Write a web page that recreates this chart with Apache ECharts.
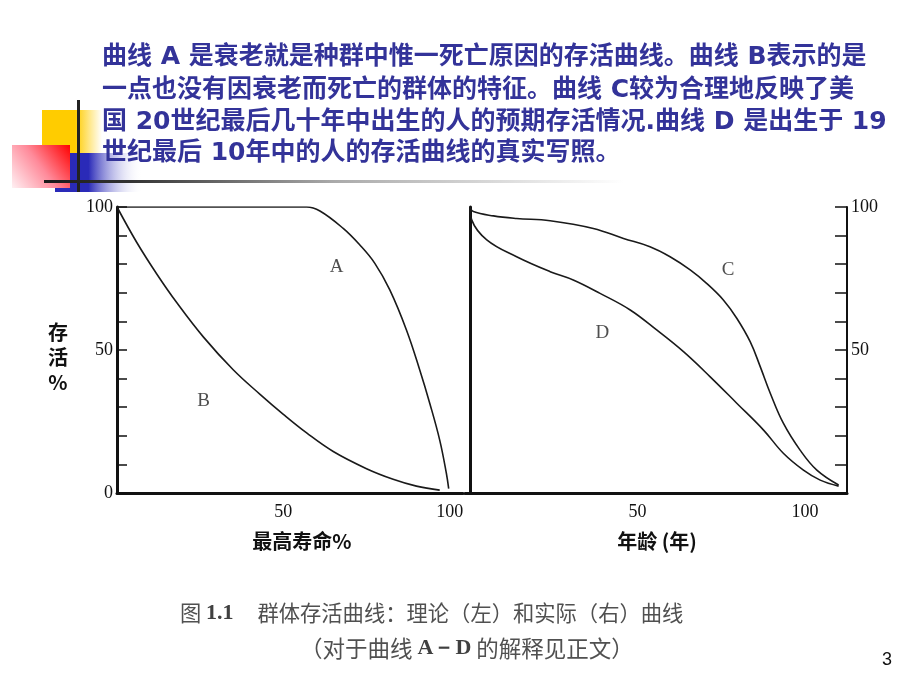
<!DOCTYPE html>
<html><head><meta charset="utf-8">
<script src="https://cdn.jsdelivr.net/npm/echarts@6/dist/echarts.min.js"></script>
<style>html,body{margin:0;padding:0;background:#fff}#c{width:920px;height:690px}</style>
</head><body><div id="c"></div>
<script>
// ---- data ----
// Left panel (theoretical): x = 最高寿命%, y = 存活%
const curveA = [[0,100],[20,100],[40,100],[57,100],[61,98.6],[68,92.5],[73,86.7],[77.5,80.3],[82,71],[87,57],[91,43],[94,31.4],[97,18.5],[99,6.9],[99.7,1.5]];
const curveB = [[0,100],[6,87.5],[12,76.5],[18,66.5],[26,54.5],[35,43],[43,34.5],[50,27.5],[57,21],[65,14.5],[75,8.5],[83,4.8],[90,2.4],[97,1]];
// Right panel (actual): x = 年龄(年), y = 存活%
const curveC = [[0,100],[1,98.4],[7,96.9],[13.9,96],[23.9,95.2],[36.8,92.5],[45.8,89],[53.7,86.1],[59.7,82.6],[65.7,78],[70.6,73.3],[75.6,67.5],[79.6,61.1],[83.6,52.9],[86.6,44.2],[89.6,34.9],[93.5,24.4],[98.5,15],[103.5,8],[110,2.8]];
const curveD = [[0,100],[0.5,95.5],[5,88.5],[13.9,82.6],[23.9,77.4],[30.8,74.5],[38.8,69.8],[47.8,64],[55.7,57],[63.7,49.4],[71.6,40.7],[79.6,31.4],[87.6,22],[93.5,13.9],[99.5,8],[104.5,4.5],[110,2.4]];
// curve name anchors (data coordinates)
const labelsLeft = [['A',66,79],['B',26,32]];
const labelsRight = [['C',77,78],['D',39.5,56]];
// tick labels
const leftXLabels = [50,100];
const leftYLabels = [0,50,100];
const rightXLabels = [50,100];
const rightYLabels = [50,100];
const titleLines = [
  '曲线 A 是衰老就是种群中惟一死亡原因的存活曲线。曲线 B表示的是',
  '一点也没有因衰老而死亡的群体的特征。曲线 C较为合理地反映了美',
  '国 20世纪最后几十年中出生的人的预期存活情况.曲线 D 是出生于 19',
  '世纪最后 10年中的人的存活曲线的真实写照。'
];

const chart = echarts.init(document.getElementById('c'), null, {renderer:'canvas'});
const serif = "'Liberation Serif','DejaVu Serif',serif";
const cjk = "'DejaVu Sans','Noto Sans CJK SC',sans-serif";
const lineColor = '#1a1a1a';

function curve(data, xi, yi){
  return {type:'line', xAxisIndex:xi, yAxisIndex:yi, data:data, showSymbol:false, smooth:0.4,
    lineStyle:{color:lineColor, width:1.6}, silent:true, animation:false};
}
function labelSeries(arr, xi, yi){
  return {type:'scatter', xAxisIndex:xi, yAxisIndex:yi, symbolSize:1, itemStyle:{color:'rgba(0,0,0,0)'}, animation:false, silent:true,
    data: arr.map(a=>({name:a[0], value:[a[1],a[2]]})),
    label:{show:true, position:'inside', formatter:'{b}', fontFamily:serif, fontSize:19, color:'#222'}};
}

const graphics = [];
// decoration top-left
graphics.push({type:'rect', z:1, shape:{x:42,y:110,width:60,height:43}, style:{fill:new echarts.graphic.LinearGradient(0,0,1,0,[{offset:0,color:'#ffcc00'},{offset:0.55,color:'#ffcc00'},{offset:1,color:'#ffffff'}])}});
graphics.push({type:'rect', z:2, shape:{x:55,y:153,width:88,height:39}, style:{fill:new echarts.graphic.LinearGradient(0,0,1,0,[{offset:0,color:'#2a2ab8'},{offset:0.38,color:'#2a2ab8'},{offset:1,color:'rgba(255,255,255,0)'}])}});
graphics.push({type:'rect', z:3, shape:{x:12,y:145,width:58,height:43}, style:{fill:new echarts.graphic.LinearGradient(1,0,0,1,[{offset:0,color:'#ff0000'},{offset:0.5,color:'#ff8a9a'},{offset:1,color:'#fff0f3'}])}});
graphics.push({type:'rect', z:4, shape:{x:77,y:100,width:3,height:92}, style:{fill:'#222'}});
graphics.push({type:'rect', z:4, shape:{x:44,y:180,width:580,height:3}, style:{fill:new echarts.graphic.LinearGradient(0,0,1,0,[{offset:0,color:'#1a1a1a'},{offset:0.15,color:'#333'},{offset:0.5,color:'#aaa'},{offset:1,color:'#ffffff'}])}});
// title text
const titleY = [57,90,122,153];
titleLines.forEach((t,i)=>{
  graphics.push({type:'text', z:5, x:102, y:titleY[i], style:{text:t, fill:'#333399', font:"bold 25px "+cjk, align:'left', verticalAlign:'middle'}});
});
// axis names
graphics.push({type:'text', x:302, y:541, style:{text:'最高寿命%', fill:'#111', font:"bold 20px 'Noto Sans CJK SC'", align:'center', verticalAlign:'middle'}});
graphics.push({type:'text', x:657, y:541, style:{text:'年龄 (年)', fill:'#111', font:"bold 20px 'Noto Sans CJK SC'", align:'center', verticalAlign:'middle'}});
graphics.push({type:'text', x:58, y:357, style:{text:'存\n活\n%', fill:'#111', font:"bold 20px 'Noto Sans CJK SC'", lineHeight:25, align:'center', verticalAlign:'middle'}});
// caption
graphics.push({type:'text', x:180, y:613, style:{text:'{a|图 }{b|1.1}{a|     群体存活曲线：理论（左）和实际（右）曲线}', align:'left', verticalAlign:'middle',
  rich:{a:{fontFamily:"'Noto Sans CJK SC'", fontSize:21.3, fill:'#505050', color:'#505050'}, b:{fontFamily:serif, fontWeight:'bold', fontSize:22, fill:'#404040', color:'#404040'}}}});
graphics.push({type:'text', x:300, y:648, style:{text:'{a|（对于曲线 }{b|A－D}{a| 的解释见正文）}', align:'left', verticalAlign:'middle',
  rich:{a:{fontFamily:"'Noto Sans CJK SC'", fontSize:22.5, fill:'#505050', color:'#505050'}, b:{fontFamily:serif, fontWeight:'bold', fontSize:22, fill:'#404040', color:'#404040'}}}});
// page number
graphics.push({type:'text', x:887, y:660, style:{text:'3', fill:'#111', font:"18px 'Liberation Sans'", align:'center', verticalAlign:'middle'}});

const axisLabelBase = {fontFamily:serif, fontSize:18, color:'#111'};
const option = {
  backgroundColor:'#ffffff',
  animation:false,
  grid:[
    {left:117, top:207, width:346, height:286},
    {left:465, top:207, width:382, height:286}
  ],
  xAxis:[
    {gridIndex:0, type:'value', min:0, max:104, splitLine:{show:false},
      axisLine:{lineStyle:{color:'#111', width:3}}, axisTick:{show:false},
      axisLabel:Object.assign({customValues:leftXLabels, margin:10}, axisLabelBase)},
    {gridIndex:1, type:'value', min:-1.5, max:112.5, splitLine:{show:false},
      axisLine:{lineStyle:{color:'#111', width:3}}, axisTick:{show:false},
      axisLabel:Object.assign({customValues:rightXLabels, margin:10}, axisLabelBase)}
  ],
  yAxis:[
    {gridIndex:0, type:'value', min:0, max:100, interval:10, splitLine:{show:false},
      axisLine:{lineStyle:{color:'#111', width:3}},
      axisTick:{inside:true, length:10, lineStyle:{color:'#111', width:1.5}},
      axisLabel:Object.assign({customValues:leftYLabels, margin:4}, axisLabelBase)},
    {gridIndex:1, type:'value', position:'left', min:0, max:100, splitLine:{show:false},
      axisLine:{lineStyle:{color:'#111', width:3}}, axisTick:{show:false}, axisLabel:{show:false}},
    {gridIndex:1, type:'value', position:'right', min:0, max:100, interval:10, splitLine:{show:false},
      axisLine:{lineStyle:{color:'#111', width:2}},
      axisTick:{inside:true, length:12, lineStyle:{color:'#111', width:1.5}},
      axisLabel:Object.assign({customValues:rightYLabels, margin:4}, axisLabelBase)}
  ],
  series:[
    curve(curveA,0,0), curve(curveB,0,0),
    curve(curveC,1,2), curve(curveD,1,2),
    labelSeries(labelsLeft,0,0), labelSeries(labelsRight,1,2)
  ],
  graphic: graphics
};
chart.setOption(option);
</script></body></html>
